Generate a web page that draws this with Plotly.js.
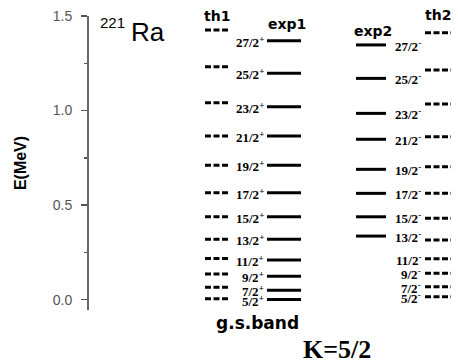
<!DOCTYPE html>
<html>
<head>
<meta charset="utf-8">
<script src="https://cdn.plot.ly/plotly-3.0.1.min.js"></script>
<style>html,body{margin:0;padding:0;background:#fff;}#chart{width:458px;height:363px;}</style>
</head>
<body>
<div id="chart"></div>
<script>
// Spin labels (J) of the K=5/2 band
var spins = ["5/2","7/2","9/2","11/2","13/2","15/2","17/2","19/2","21/2","23/2","25/2","27/2"];
// Energies in MeV
var th1  = [0.004, 0.065, 0.135, 0.218, 0.319, 0.438, 0.565, 0.710, 0.865, 1.041, 1.232, 1.426];
var exp1 = [0.000, 0.050, 0.124, 0.209, 0.319, 0.438, 0.565, 0.710, 0.865, 1.020, 1.197, 1.369];
var exp2 = [null, null, null, null, 0.336, 0.438, 0.562, 0.689, 0.848, 0.985, 1.170, 1.347];
var th2  = [0.015, 0.068, 0.139, 0.216, 0.315, 0.430, 0.562, 0.703, 0.861, 1.034, 1.214, 1.412];
var yTicks = [0.0, 0.5, 1.0, 1.5];
var yTickText = ["0.0", "0.5", "1.0", "1.5"];

// Column layout (horizontal extents on hidden x axis)
var cols = {
  th1:  [116, 139],
  exp1: [178, 212],
  exp2: [267, 297],
  th2:  [336, 362]
};

function levels(vals, span, dashed) {
  var xs = [], ys = [];
  vals.forEach(function (v) {
    if (v === null) return;
    xs.push(span[0], span[1], null);
    ys.push(v, v, null);
  });
  return {
    x: xs, y: ys, type: "scatter", mode: "lines", hoverinfo: "skip",
    line: {color: "#000", width: 3, dash: dashed ? "6px,2.5px" : "solid"},
    showlegend: false
  };
}

var traces = [
  levels(th1, cols.th1, true),
  levels(exp1, cols.exp1, false),
  levels(exp2, cols.exp2, false),
  levels(th2, cols.th2, true)
];

var labFont = {family: "Liberation Serif", size: 13, color: "#000", weight: "bold"};
var ann = [];
spins.forEach(function (s, i) {
  ann.push({x: cols.exp1[0] - 1, y: exp1[i], xref: "x", yref: "y", xanchor: "right", yanchor: "middle",
    text: s + "<sup>+</sup>", showarrow: false, font: labFont, yshift: -1});
  var ry = exp2[i] !== null ? exp2[i] : th2[i];
  ann.push({x: cols.th2[0] - 2, y: ry, xref: "x", yref: "y", xanchor: "right", yanchor: "middle",
    text: s + "<sup>-</sup>", showarrow: false, font: labFont, yshift: -1});
});

var hdrFont = {family: "DejaVu Sans", size: 14, color: "#000"};
function hdr(t, x, py) {
  return {x: x, y: py, xref: "x", yref: "paper", xanchor: "center", yanchor: "middle",
    text: "<b>" + t + "</b>", showarrow: false, font: hdrFont};
}
ann.push(hdr("th1", 127.5, 1.0));
ann.push(hdr("exp1", 198, 0.973));
ann.push(hdr("exp2", 284, 0.949));
ann.push(hdr("th2", 349, 1.003));

ann.push({x: 23, y: 0.979, xref: "x", yref: "paper", xanchor: "center", yanchor: "middle",
  text: "221", showarrow: false, font: {family: "Liberation Sans", size: 15, color: "#000"}});
ann.push({x: 59, y: 0.946, xref: "x", yref: "paper", xanchor: "center", yanchor: "middle",
  text: "Ra", showarrow: false, font: {family: "Liberation Sans", size: 26, color: "#000"}});

ann.push({x: 168, y: -0.044, xref: "x", yref: "paper", xanchor: "center", yanchor: "middle",
  text: "<b>g.s.band</b>", showarrow: false, font: {family: "DejaVu Sans", size: 17, color: "#000"}});
ann.push({x: 248, y: -0.136, xref: "x", yref: "paper", xanchor: "center", yanchor: "middle",
  text: "<b>K=5/2</b>", showarrow: false, font: {family: "Liberation Serif", size: 26, color: "#000"}});

var layout = {
  width: 458, height: 363,
  margin: {l: 89, r: 0, t: 16, b: 53, pad: 0},
  paper_bgcolor: "#fff", plot_bgcolor: "#fff",
  showlegend: false,
  xaxis: {range: [0, 369], visible: false, fixedrange: true},
  yaxis: {
    range: [-0.055, 1.5], showgrid: false, zeroline: false,
    showline: true, linecolor: "#666", linewidth: 2,
    ticks: "outside", ticklen: 6, tickwidth: 1.5, tickcolor: "#555",
    tickmode: "array", tickvals: yTicks, ticktext: yTickText,
    ticklabelstandoff: 6,
    tickfont: {family: "Liberation Sans", size: 14, color: "#555"},
    minor: {tickmode: "linear", tick0: 0.25, dtick: 0.5, ticks: "outside", ticklen: 3, tickwidth: 1.5, tickcolor: "#555", showgrid: false},
    title: {text: "<b>E(MeV)</b>", standoff: 22, font: {family: "Liberation Sans", size: 16, color: "#000"}}
  },
  annotations: ann
};

Plotly.newPlot("chart", traces, layout, {displayModeBar: false, staticPlot: true});
</script>
</body>
</html>
